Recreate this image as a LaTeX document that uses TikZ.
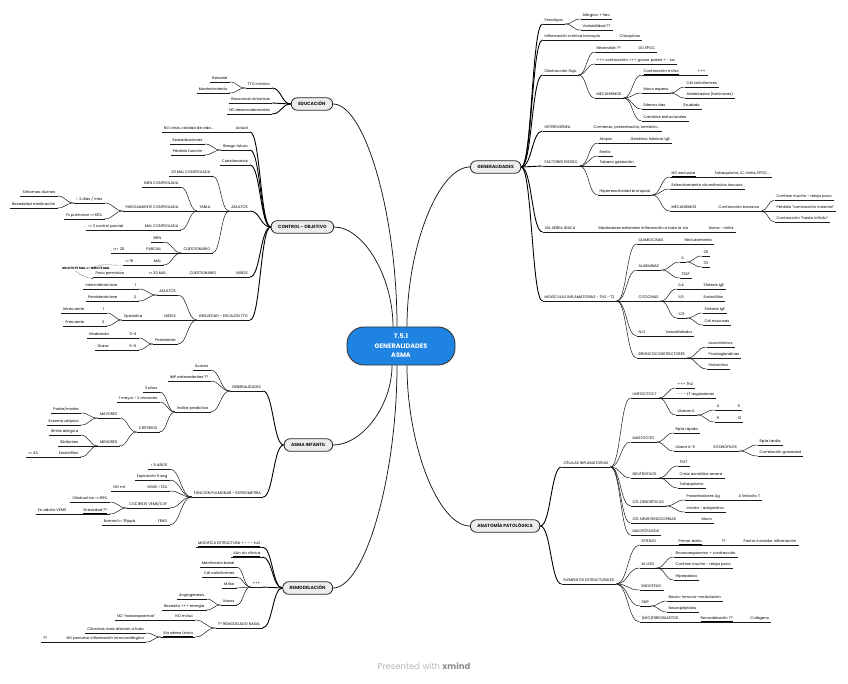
\documentclass[tikz,border=0pt]{standalone}
\usepackage{fontspec}
\setmainfont{Poppins}
\usetikzlibrary{calc,arrows.meta}
\definecolor{xblue}{RGB}{31,131,226}
\newcommand\fs{\fontsize{3.75}{4.3}\selectfont}
\newcommand\fb{\fontsize{4.5}{5}\selectfont\bfseries}
\newcommand\lnk[3][]{\draw[conn,#1] let \p1=(#2), \p2=(#3) in (\p1) .. controls ({(\x1+\x2)/2},\y1) and ({(\x1+\x2)/2},\y2) .. (\p2);}
\newcommand\mlnk[2]{\draw[mconn] let \p1=(#1), \p2=(#2) in (\p1) .. controls (\x1,{(\y1+\y2)/2}) and ({(\x1+\x2)/2},\y2) .. (\p2);}
\newcommand\toR[2]{\lnk{#1.south east}{#2.south west}}
\newcommand\toL[2]{\lnk{#1.south west}{#2.south east}}
\newcommand\kidsR[2]{\foreach \q in {#2} {\toR{#1}{\q}}}
\newcommand\kidsL[2]{\foreach \q in {#2} {\toL{#1}{\q}}}
\tikzset{
  uline/.style={draw=black!90, line width=0.5pt},
  ul/.style={append after command={(\tikzlastnode.south west) edge[uline] (\tikzlastnode.south east)}},
  base/.style={font=\fs, text=black, inner xsep=2pt, inner ysep=0.7pt, text height=2.8pt, text depth=1.3pt},
  R/.style={base, anchor=south west, ul},
  L/.style={base, anchor=south east, ul},
  conn/.style={draw=black!90, line width=0.5pt},
  trunk/.style={draw=black, line width=0.9pt},
  mconn/.style={draw=black!90, line width=0.75pt},
  mainbox/.style={draw=black!85, fill=black!7, line width=0.8pt, rounded corners=6pt, font=\fb, text=black!90, minimum height=12.5pt, inner xsep=7pt, text height=3.4pt, text depth=0.3pt},
  central/.style={draw=black!80, line width=0.9pt, fill=xblue, rounded corners=17pt, minimum width=108pt, minimum height=38pt, align=center, text=white, font=\fontsize{6.5}{9.5}\selectfont\bfseries},
  dsh/.style={draw=black!70, line width=0.4pt, dash pattern=on 1pt off 0.8pt}
}
\begin{document}
\begin{tikzpicture}[x=1pt,y=-1pt]
\fill[white] (0,0) rectangle (848,684);
\useasboundingbox (0,0) rectangle (848,684);

% ---- centre and main topics
\node[central] (cen) at (401,346) {T.5.1\\GENERALIDADES\\ASMA};
\node[mainbox, anchor=west] (gen) at (470,167) {GENERALIDADES};
\node[mainbox, anchor=west] (ana) at (470,526) {ANATOMÍA PATOLÓGICA};
\node[mainbox, anchor=east] (edu) at (333,104) {EDUCACIÓN};
\node[mainbox, anchor=east] (ctl) at (334,227) {CONTROL - OBJETIVO};
\node[mainbox, anchor=east] (inf) at (333,445) {ASMA INFANTIL};
\node[mainbox, anchor=east] (rem) at (333,588) {REMODELACIÓN};

% ---- GENERALIDADES
\node[R] (g1) at (542.5,24) {Fenotipos};
\node[R] (g1a) at (580.5,19) {Alérgico + frec};
\node[R] (g1b) at (580.5,30) {Variabilidad ??};
\node[R] (g2) at (542.5,40) {Inflamación crónica bronquio};
\node[R] (g2a) at (617.5,40) {Citoquinas};
\node[R] (g3) at (542.5,75) {\underline{Obstrucción flujo}};
\node[R] (g3a) at (594.5,52) {Reversible ??};
\node[R] (g3a1) at (636.5,52) {DD EPOC};
\node[R] (g3b) at (594.5,64) {+++ contracción +++ grosor pared + - luz};
\node[R] (g3c) at (594.5,98) {MECANISMOS};
\node[R] (g3c1) at (641.5,75) {\underline{Contracción m.liso}};
\node[R] (g3c1a) at (695.5,75) {+++};
\node[R] (g3c2) at (641.5,93) {Moco espeso};
\node[R] (g3c2a) at (684.5,87) {Cél caliciformes};
\node[R] (g3c2b) at (684.5,98) {Atelectasias (laminares)};
\node[R] (g3c3) at (641.5,109) {Edema vías};
\node[R] (g3c3a) at (681.5,109) {Exudado};
\node[R] (g3c4) at (641.5,121) {Cambios estructurales};
\node[R] (g4) at (542.5,131) {HETEROGÉNEA};
\node[R] (g4a) at (591.5,131) {Comienzo, presentación, remisión...};
\node[R] (g5) at (542.5,166) {FACTORES RIESGO};
\node[R] (g5a) at (597.5,143) {Atopia};
\node[R] (g5a1) at (628.5,143) {Genética fabricar IgE};
\node[R] (g5b) at (597.5,156) {Rinitis};
\node[R] (g5c) at (597.5,166) {Tabaco gestación};
\node[R] (g5d) at (597.5,195) {\underline{Hiperreactividad bronquial}};
\node[R] (g5d1) at (669.5,177) {\underline{NO exclusiva}};
\node[R] (g5d1a) at (712.5,177) {Tabaquismo, IC, rinitis, EPOC...};
\node[R] (g5d2) at (669.5,189) {Estrechamiento vía estímulos inocuos};
\node[R] (g5d3) at (669.5,211) {MECANISMOS};
\node[R] (g5d3a) at (716.5,211) {Contracción excesiva};
\node[R] (g5d3a1) at (774.5,200) {Contrae mucho - relaja poco};
\node[R] (g5d3a2) at (774.5,211) {Pérdida "contracción máxima"};
\node[R] (g5d3a3) at (774.5,222) {Contracción "hasta infinito"};
\node[R] (g6) at (542.5,232) {VÍA AÉREA ÚNICA};
\node[R] (g6a) at (596.5,232) {Mediadores extienden inflamación a toda la vía};
\node[R] (g6a1) at (706.5,232) {Asma - rinitis};
\node[R] (g7) at (542.5,301) {MOLÉCULAS INFLAMATORIAS - TH2 - T2};
\node[R] (g7a) at (636.5,244) {QUIMIOCINAS};
\node[R] (g7a1) at (682.5,244) {Reclutamiento};
\node[R] (g7b) at (636.5,270) {ALARMINAS};
\node[R] (g7b1) at (679.5,262) {IL};
\node[R] (g7b1a) at (701.5,256) {25};
\node[R] (g7b1b) at (701.5,267) {33};
\node[R] (g7b2) at (679.5,278) {TSLP};
\node[R] (g7c) at (636.5,301) {CITOCINAS};
\node[R] (g7c1) at (676.5,289) {IL4};
\node[R] (g7c1a) at (701.5,289) {Síntesis IgE};
\node[R] (g7c2) at (676.5,301) {IL5};
\node[R] (g7c2a) at (701.5,301) {Eosinófilos};
\node[R] (g7c3) at (676.5,318) {IL13};
\node[R] (g7c3a) at (702.5,313) {Síntesis IgE};
\node[R] (g7c3b) at (702.5,325) {Cél mucosas};
\node[R] (g7d) at (636.5,336) {N.O};
\node[R] (g7d1) at (663.5,336) {Vasodilatador};
\node[R] (g7e) at (636.5,358) {BRONCOCONSTRICTORES};
\node[R] (g7e1) at (706.5,347) {Leucotrienos};
\node[R] (g7e2) at (706.5,358) {Prostaglandinas};
\node[R] (g7e3) at (706.5,369) {Histamina};

% ---- ANATOMIA PATOLOGICA
\node[R] (a1) at (561.5,467) {CÉLULAS INFLAMATORIAS};
\node[R] (a1a) at (630.5,398) {LINFOCITOS T};
\node[R] (a1a1) at (675.5,388) {+++ Th2};
\node[R] (a1a2) at (675.5,398) {- - - LT reguladores};
\node[R] (a1a3) at (675.5,415) {Liberan IL};
\node[R] (a1a3a) at (714.5,410) {4};
\node[R] (a1a3a1) at (735.5,410) {5};
\node[R] (a1a3b) at (714.5,422) {9};
\node[R] (a1a3b1) at (735.5,422) {13};
\node[R] (a1b) at (630.5,442) {MASTOCITO};
\node[R] (a1b1) at (673.5,433) {Rpta rápida};
\node[R] (a1b2) at (673.5,451) {Libera IL-5};
\node[R] (a1b2a) at (711.5,451) {EOSINÓFILOS};
\node[R] (a1b2a1) at (757.5,445) {Rpta tardía};
\node[R] (a1b2a2) at (757.5,456) {Correlación gravedad};
\node[R] (a1c) at (630.5,478) {NEUTRÓFILOS};
\node[R] (a1c1) at (677.5,466) {Th17};
\node[R] (a1c2) at (677.5,478) {Crisis asmática severa};
\node[R] (a1c3) at (677.5,488) {Tabaquismo};
\node[R] (a1d) at (630.5,506) {CÉL DENDRÍTICAS};
\node[R] (a1d1) at (684.5,500) {Presentadores Ag};
\node[R] (a1d1a) at (736.5,500) {A linfocito T};
\node[R] (a1d2) at (684.5,512) {Innata - adaptativa};
\node[R] (a1e) at (630.5,523) {CÉL NEUROENDOCRINAS};
\node[R] (a1e1) at (699.5,523) {Moco};
\node[R] (a1f) at (630.5,535) {MACRÓFAGOS};
\node[R] (a2) at (561.5,584) {ELEMENTOS ESTRUCTURALES};
\node[R] (a2a) at (639.5,545) {EPITELIO};
\node[R] (a2a1) at (676.5,545) {\underline{Primer daño}};
\node[R] (a2a1a) at (719.5,545) {??};
\node[R] (a2a1a1) at (741.5,545) {Factor iniciador inflamación};
\node[R] (a2b) at (639.5,568) {M. LISO};
\node[R] (a2b1) at (673.5,557) {Broncoespasmos + contracción};
\node[R] (a2b2) at (673.5,568) {Contrae mucho - relaja poco};
\node[R] (a2b3) at (673.5,580) {Hiperplasia};
\node[R] (a2c) at (639.5,590) {ENDOTELIO};
\node[R] (a2d) at (639.5,606) {SNP};
\node[R] (a2d1) at (666.5,601) {Neuro-inmuno-modulación};
\node[R] (a2d2) at (666.5,612) {Neuropéptidos};
\node[R] (a2e) at (639.5,622) {(MIO)FIBROBLASTOS};
\node[R] (a2e1) at (698.5,622) {\underline{Remodelación ??}};
\node[R] (a2e1a) at (748.5,622) {Colágeno};

% ---- EDUCACION
\node[L] (e1) at (272,88) {TTO crónico};
\node[L] (e1a) at (229.5,82) {Rescate};
\node[L] (e1b) at (229.5,93) {Mantenimiento};
\node[L] (e2) at (272,103) {Reconocer síntomas};
\node[L] (e3) at (272,114) {NO desencadenantes};

% ---- CONTROL - OBJETIVO
\node[L] (c1) at (250,132) {Actual};
\node[L] (c1a) at (216.5,132) {NO crisis, calidad de vida ...};
\node[L] (c2) at (250,150) {Riesgo futuro};
\node[L] (c2a) at (204.5,144) {Exacerbaciones};
\node[L] (c2b) at (204.5,155) {Pérdida función};
\node[L] (c3) at (250,165) {Cuestionarios};
\node[L] (c4) at (250,211) {ADULTOS};
\node[L] (c4a) at (212.5,176) {20 MAL CONTROLADA};
\node[L] (c4b) at (212.5,211) {TABLA};
\node[L] (c4b1) at (180.5,187) {BIEN CONTROLADA};
\node[L] (c4b2) at (180.5,211) {PARCIALMENTE CONTROLADA};
\node[L] (c4b2a) at (104.5,203) {< 2 días / mes};
\node[L] (c4b2a1) at (57.5,196) {Síntomas diurnos};
\node[L] (c4b2a2) at (57.5,208) {Necesidad medicación};
\node[L] (c4b2b) at (104.5,219) {Fx pulmonar <<<< 80\%};
\node[L] (c4b3) at (180.5,230) {MAL CONTROLADA};
\node[L] (c4b3a) at (125.5,230) {<<<< 3 control parcial};
\node[L] (c4c) at (212.5,253) {CUESTIONARIO};
\node[L] (c4c1) at (163.5,242) {BIEN};
\node[L] (c4c2) at (163.5,253) {PARCIAL};
\node[L] (c4c2a) at (126.5,253) {<<<<< 20};
\node[L] (c4c3) at (163.5,265) {MAL};
\node[L] (c4c3a) at (135.5,265) {<<<< 15};
\node[L] (c5) at (250,277) {NIÑOS};
\node[L] (c5a) at (218.5,277) {CUESTIONARIO};
\node[L] (c5a1) at (168.5,277) {<<<< 20 MAL};
\node[L] (c5a1a) at (126.5,277) {Poco permisivo};
\node[base, font=\fontsize{3.1}{3.5}\selectfont\bfseries] (note) at (86,268.5) {ADULTO 15 MAL => NIÑO 15 MAL};
\node[L] (c6) at (250,320) {GRAVEDAD - ESCALÓN TTO};
\node[L] (c6a) at (178,295) {ADULTOS};
\node[L] (c6a1) at (138.5,289) {1};
\node[L] (c6a1a) at (119.5,289) {Intermitente leve};
\node[L] (c6a2) at (138.5,301) {2};
\node[L] (c6a2a) at (119.5,301) {Persistente leve};
\node[L] (c6b) at (178,320) {NIÑOS};
\node[L] (c6b1) at (144.5,320) {Episódica};
\node[L] (c6b1a) at (106.5,313) {1};
\node[L] (c6b1a1) at (86.5,313) {Infrecuente};
\node[L] (c6b1b) at (106.5,326) {2};
\node[L] (c6b1b1) at (86.5,326) {Frecuente};
\node[L] (c6c) at (178,344) {Persistente};
\node[L] (c6c1) at (138.5,338) {3-4};
\node[L] (c6c1a) at (111,338) {Moderada};
\node[L] (c6c2) at (138.5,350) {5-6};
\node[L] (c6c2a) at (111,350) {Grave};

% ---- ASMA INFANTIL
\node[L] (i1) at (263,391) {GENERALIDADES};
\node[L] (i1a) at (210.5,370) {Ácaros};
\node[L] (i1b) at (210.5,381) {IMP antecedentes ??};
\node[L] (i1c) at (210.5,412) {Índice predictivo};
\node[L] (i1c1) at (159.5,392) {3 años};
\node[L] (i1c2) at (159.5,402) {1 mayor - 2 menores};
\node[L] (i1c3) at (159.5,432) {CRITERIOS};
\node[L] (i1c3a) at (119.5,418) {MAYORES};
\node[L] (i1c3a1) at (81,413) {Padre/madre};
\node[L] (i1c3a2) at (81,425) {Eczema atópico};
\node[L] (i1c3b) at (119.5,446) {MENORES};
\node[L] (i1c3b1) at (80.5,435) {Rinitis alérgica};
\node[L] (i1c3b2) at (80.5,446) {Sibilantes};
\node[L] (i1c3b3) at (80.5,457) {Eosinófilos};
\node[L] (i1c3b3a) at (40.5,457) {<<<< 4\%};
\node[L] (i2) at (263,497) {FUNCIÓN PULMONAR - ESPIROMETRÍA};
\node[L] (i2a) at (169.5,469) {< 5 AÑOS};
\node[L] (i2b) at (169.5,480) {Espiración 5 seg};
\node[L] (i2c) at (169.5,491) {VEMS > 12\%};
\node[L] (i2c1) at (127.5,491) {NO mt};
\node[L] (i2d) at (169.5,508) {COCIENTE VEMS/CVF};
\node[L] (i2d1) at (109.5,502) {Obstructivo <<<< 85\%};
\node[L] (i2d2) at (109.5,514) {\underline{Gravedad ??}};
\node[L] (i2d2a) at (68.5,514) {En adulto VEMS};
\node[L] (i2e) at (169.5,525) {FENO};
\node[L] (i2e1) at (137.5,525) {Normal <<<< 35ppb};

% ---- REMODELACION
\node[L] (m1) at (262.5,547) {\underline{MODIFICA ESTRUCTURA + - - - LUZ}};
\node[L] (m2) at (262.5,557) {\underline{Aún sin clínica}};
\node[L] (m3) at (262.5,587) {+++};
\node[L] (m3a) at (236.5,567) {Membrana basal};
\node[L] (m3b) at (236.5,577) {Cél caliciformes};
\node[L] (m3c) at (236.5,588) {M.liso};
\node[L] (m3d) at (236.5,605) {Vasos};
\node[L] (m3d1) at (206.5,599) {Angiogénesis};
\node[L] (m3d2) at (206.5,610) {Necesita +++ energía};
\node[L] (m4) at (262.5,628) {?? REMODELADO NASAL};
\node[L] (m4a) at (195,620) {NO m.liso};
\node[L] (m4a1) at (157.5,620) {NO "nasoespasmos"};
\node[L] (m4b) at (195,637) {\underline{Vía aérea única}};
\node[L] (m4b1) at (146,633) {Citocinas nariz afectan a todo};
\node[L] (m4b2) at (146,642) {NO percatar inflamación inmunoalérgica};
\node[L] (m4b2a) at (49.5,642) {??};

\node[font=\fontsize{8.5}{10}\selectfont, text=black!28] (foot) at (424,666) {Presented with {\color{black!45}\bfseries xmind}};

% ---- connectors: centre to main topics
\mlnk{[xshift=6pt]cen.north}{gen.west}
\mlnk{[xshift=-4pt]cen.north}{edu.east}
\mlnk{[xshift=-8pt]cen.north}{ctl.east}
\mlnk{[xshift=6pt]cen.south}{ana.west}
\mlnk{[xshift=-9pt]cen.south}{inf.east}
\mlnk{[xshift=-4pt]cen.south}{rem.east}

% ---- GENERALIDADES branches
\foreach \q in {g1,g2,g3,g4,g5,g6,g7} {\lnk[trunk]{gen.east}{\q.south west}}
\kidsR{g1}{g1a,g1b}
\kidsR{g2}{g2a}
\kidsR{g3}{g3a,g3b,g3c}
\kidsR{g3a}{g3a1}
\kidsR{g3c}{g3c1,g3c2,g3c3,g3c4}
\kidsR{g3c1}{g3c1a}
\kidsR{g3c2}{g3c2a,g3c2b}
\kidsR{g3c3}{g3c3a}
\kidsR{g4}{g4a}
\kidsR{g5}{g5a,g5b,g5c,g5d}
\kidsR{g5a}{g5a1}
\kidsR{g5d}{g5d1,g5d2,g5d3}
\kidsR{g5d1}{g5d1a}
\kidsR{g5d3}{g5d3a}
\kidsR{g5d3a}{g5d3a1,g5d3a2,g5d3a3}
\kidsR{g6}{g6a}
\kidsR{g6a}{g6a1}
\kidsR{g7}{g7a,g7b,g7c,g7d,g7e}
\kidsR{g7a}{g7a1}
\kidsR{g7b}{g7b1,g7b2}
\kidsR{g7b1}{g7b1a,g7b1b}
\kidsR{g7c}{g7c1,g7c2,g7c3}
\kidsR{g7c1}{g7c1a}
\kidsR{g7c2}{g7c2a}
\kidsR{g7c3}{g7c3a,g7c3b}
\kidsR{g7d}{g7d1}
\kidsR{g7e}{g7e1,g7e2,g7e3}

% ---- ANATOMIA branches
\foreach \q in {a1,a2} {\lnk[trunk]{ana.east}{\q.south west}}
\kidsR{a1}{a1a,a1b,a1c,a1d,a1e,a1f}
\kidsR{a1a}{a1a1,a1a2,a1a3}
\kidsR{a1a3}{a1a3a,a1a3b}
\kidsR{a1a3a}{a1a3a1}
\kidsR{a1a3b}{a1a3b1}
\kidsR{a1b}{a1b1,a1b2}
\kidsR{a1b2}{a1b2a}
\kidsR{a1b2a}{a1b2a1,a1b2a2}
\kidsR{a1c}{a1c1,a1c2,a1c3}
\kidsR{a1d}{a1d1,a1d2}
\kidsR{a1d1}{a1d1a}
\kidsR{a1e}{a1e1}
\kidsR{a2}{a2a,a2b,a2c,a2d,a2e}
\kidsR{a2a}{a2a1}
\kidsR{a2a1}{a2a1a}
\kidsR{a2a1a}{a2a1a1}
\kidsR{a2b}{a2b1,a2b2,a2b3}
\kidsR{a2d}{a2d1,a2d2}
\kidsR{a2e}{a2e1}
\kidsR{a2e1}{a2e1a}

% ---- EDUCACION branches
\foreach \q in {e1,e2,e3} {\lnk[trunk]{edu.west}{\q.south east}}
\kidsL{e1}{e1a,e1b}

% ---- CONTROL branches
\foreach \q in {c1,c2,c3,c4,c5,c6} {\lnk[trunk]{ctl.west}{\q.south east}}
\kidsL{c1}{c1a}
\kidsL{c2}{c2a,c2b}
\kidsL{c4}{c4a,c4b,c4c}
\kidsL{c4b}{c4b1,c4b2,c4b3}
\kidsL{c4b2}{c4b2a,c4b2b}
\kidsL{c4b2a}{c4b2a1,c4b2a2}
\kidsL{c4b3}{c4b3a}
\kidsL{c4c}{c4c1,c4c2,c4c3}
\kidsL{c4c2}{c4c2a}
\kidsL{c4c3}{c4c3a}
\kidsL{c5}{c5a}
\kidsL{c5a}{c5a1}
\kidsL{c5a1}{c5a1a}
\kidsL{c6}{c6a,c6b,c6c}
\kidsL{c6a}{c6a1,c6a2}
\kidsL{c6a1}{c6a1a}
\kidsL{c6a2}{c6a2a}
\kidsL{c6b}{c6b1}
\kidsL{c6b1}{c6b1a,c6b1b}
\kidsL{c6b1a}{c6b1a1}
\kidsL{c6b1b}{c6b1b1}
\kidsL{c6c}{c6c1,c6c2}
\kidsL{c6c1}{c6c1a}
\kidsL{c6c2}{c6c2a}
\draw[dsh] ([xshift=12pt]note.north) .. controls +(8,-2) and +(-6,1) .. (c4c3a.south west);
\draw[dsh, -{Stealth[length=2pt,width=1.6pt]}] ([xshift=-10pt]note.south) .. controls +(3,3) and +(-5,0) .. ([yshift=-1.5pt]c5a1a.south west);

% ---- ASMA INFANTIL branches
\foreach \q in {i1,i2} {\lnk[trunk]{inf.west}{\q.south east}}
\kidsL{i1}{i1a,i1b,i1c}
\kidsL{i1c}{i1c1,i1c2,i1c3}
\kidsL{i1c3}{i1c3a,i1c3b}
\kidsL{i1c3a}{i1c3a1,i1c3a2}
\kidsL{i1c3b}{i1c3b1,i1c3b2,i1c3b3}
\kidsL{i1c3b3}{i1c3b3a}
\kidsL{i2}{i2a,i2b,i2c,i2d,i2e}
\kidsL{i2c}{i2c1}
\kidsL{i2d}{i2d1,i2d2}
\kidsL{i2d2}{i2d2a}
\kidsL{i2e}{i2e1}

% ---- REMODELACION branches
\foreach \q in {m1,m2,m3,m4} {\lnk[trunk]{rem.west}{\q.south east}}
\kidsL{m3}{m3a,m3b,m3c,m3d}
\kidsL{m3d}{m3d1,m3d2}
\kidsL{m4}{m4a,m4b}
\kidsL{m4a}{m4a1}
\kidsL{m4b}{m4b1,m4b2}
\kidsL{m4b2}{m4b2a}
\end{tikzpicture}
\end{document}
